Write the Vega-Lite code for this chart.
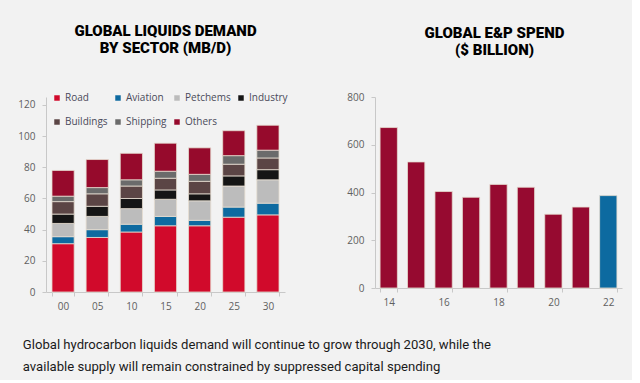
{
  "$schema": "https://vega.github.io/schema/vega-lite/v6.json",
  "background": "#f2f2f2",
  "padding": {"left": 17, "top": 24, "right": 10, "bottom": 5},
  "spacing": 58,
  "resolve": {"scale": {"color": "independent"}, "legend": {"color": "independent"}},
  "config": {
    "view": {"stroke": null},
    "axis": {
      "labelFont": "Open Sans",
      "labelFontSize": 10,
      "labelColor": "#606060",
      "domainColor": "#c8c8c8",
      "tickColor": "#c8c8c8",
      "tickSize": 4,
      "grid": false,
      "title": null
    },
    "title": {
      "font": "Roboto",
      "fontSize": 15,
      "fontWeight": 900,
      "color": "#000000",
      "lineHeight": 17
    }
  },
  "title": {
    "text": [
      "Global hydrocarbon liquids demand will continue to grow through 2030, while the",
      "available supply will remain constrained by suppressed capital spending"
    ],
    "orient": "bottom",
    "anchor": "start",
    "font": "Roboto",
    "fontSize": 13.1,
    "fontWeight": "normal",
    "color": "#1a1a1a",
    "lineHeight": 22,
    "offset": 28,
    "dx": 5
  },
  "hconcat": [
    {
      "width": 239,
      "height": 195,
      "title": {
        "text": ["GLOBAL LIQUIDS DEMAND", "BY SECTOR (MB/D)"],
        "offset": 37
      },
      "data": {
        "values": [
          {"year": "00", "sector": "Road", "value": 31},
          {"year": "00", "sector": "Aviation", "value": 4.5},
          {"year": "00", "sector": "Petchems", "value": 8.5},
          {"year": "00", "sector": "Industry", "value": 6},
          {"year": "00", "sector": "Buildings", "value": 8},
          {"year": "00", "sector": "Shipping", "value": 3.5},
          {"year": "00", "sector": "Others", "value": 16.5},
          {"year": "05", "sector": "Road", "value": 35},
          {"year": "05", "sector": "Aviation", "value": 5},
          {"year": "05", "sector": "Petchems", "value": 8.5},
          {"year": "05", "sector": "Industry", "value": 6.5},
          {"year": "05", "sector": "Buildings", "value": 8},
          {"year": "05", "sector": "Shipping", "value": 4},
          {"year": "05", "sector": "Others", "value": 18},
          {"year": "10", "sector": "Road", "value": 38.5},
          {"year": "10", "sector": "Aviation", "value": 5},
          {"year": "10", "sector": "Petchems", "value": 10},
          {"year": "10", "sector": "Industry", "value": 6.5},
          {"year": "10", "sector": "Buildings", "value": 8},
          {"year": "10", "sector": "Shipping", "value": 4},
          {"year": "10", "sector": "Others", "value": 17},
          {"year": "15", "sector": "Road", "value": 42.5},
          {"year": "15", "sector": "Aviation", "value": 6},
          {"year": "15", "sector": "Petchems", "value": 11},
          {"year": "15", "sector": "Industry", "value": 6},
          {"year": "15", "sector": "Buildings", "value": 7.5},
          {"year": "15", "sector": "Shipping", "value": 4.5},
          {"year": "15", "sector": "Others", "value": 18},
          {"year": "20", "sector": "Road", "value": 42.5},
          {"year": "20", "sector": "Aviation", "value": 3.5},
          {"year": "20", "sector": "Petchems", "value": 12.5},
          {"year": "20", "sector": "Industry", "value": 4.5},
          {"year": "20", "sector": "Buildings", "value": 8},
          {"year": "20", "sector": "Shipping", "value": 4.5},
          {"year": "20", "sector": "Others", "value": 17},
          {"year": "25", "sector": "Road", "value": 48},
          {"year": "25", "sector": "Aviation", "value": 6.5},
          {"year": "25", "sector": "Petchems", "value": 13.5},
          {"year": "25", "sector": "Industry", "value": 6.5},
          {"year": "25", "sector": "Buildings", "value": 7.5},
          {"year": "25", "sector": "Shipping", "value": 5.5},
          {"year": "25", "sector": "Others", "value": 16},
          {"year": "30", "sector": "Road", "value": 49.5},
          {"year": "30", "sector": "Aviation", "value": 7.5},
          {"year": "30", "sector": "Petchems", "value": 15},
          {"year": "30", "sector": "Industry", "value": 6.5},
          {"year": "30", "sector": "Buildings", "value": 7.5},
          {"year": "30", "sector": "Shipping", "value": 5},
          {"year": "30", "sector": "Others", "value": 16}
        ]
      },
      "transform": [
        {"calculate": "indexof(['Road','Aviation','Petchems','Industry','Buildings','Shipping','Others'], datum.sector)", "as": "stackIndex"}
      ],
      "mark": {"type": "bar", "stroke": "#e6ddd0", "strokeWidth": 0.8},
      "encoding": {
        "x": {
          "field": "year",
          "type": "ordinal",
          "scale": {"paddingInner": 0.35, "paddingOuter": 0.175},
          "axis": {"labelAngle": 0, "tickBand": "extent", "labelPadding": 5}
        },
        "y": {
          "field": "value",
          "type": "quantitative",
          "aggregate": "sum",
          "scale": {"domain": [0, 125.13], "nice": false},
          "axis": {"values": [0, 20, 40, 60, 80, 100, 120], "labelPadding": 7}
        },
        "order": {"field": "stackIndex", "type": "quantitative", "sort": "ascending"},
        "color": {
          "field": "sector",
          "type": "nominal",
          "sort": ["Road", "Aviation", "Petchems", "Industry", "Buildings", "Shipping", "Others"],
          "scale": {
            "domain": ["Road", "Aviation", "Petchems", "Industry", "Buildings", "Shipping", "Others"],
            "range": ["#d10a2b", "#0e6aa0", "#bcbcbc", "#151515", "#5b4545", "#6b6b6b", "#960a2c"]
          },
          "legend": {
            "orient": "none",
            "legendX": 6,
            "legendY": -4,
            "direction": "horizontal",
            "columns": 4,
            "title": null,
            "symbolType": "square",
            "symbolSize": 30,
            "symbolStrokeWidth": 0,
            "labelFont": "Open Sans",
            "labelFontSize": 10,
            "labelColor": "#4a4a5a",
            "labelOffset": 3,
            "columnPadding": 5,
            "rowPadding": 14
          }
        }
      }
    },
    {
      "width": 247,
      "height": 191,
      "title": {
        "text": ["GLOBAL E&P SPEND", "($ BILLION)"],
        "offset": 34.5,
        "dx": -4
      },
      "data": {
        "values": [
          {"year": "14", "kind": "actual", "spend": 672},
          {"year": "15", "kind": "actual", "spend": 528},
          {"year": "16", "kind": "actual", "spend": 404},
          {"year": "17", "kind": "actual", "spend": 380},
          {"year": "18", "kind": "actual", "spend": 434},
          {"year": "19", "kind": "actual", "spend": 422},
          {"year": "20", "kind": "actual", "spend": 309},
          {"year": "21", "kind": "actual", "spend": 339},
          {"year": "22", "kind": "forecast", "spend": 387}
        ]
      },
      "mark": {"type": "bar", "stroke": "#e6ddd0", "strokeWidth": 0.8},
      "encoding": {
        "x": {
          "field": "year",
          "type": "ordinal",
          "scale": {"paddingInner": 0.37, "paddingOuter": 0.185},
          "axis": {"labelAngle": 0, "tickBand": "extent", "values": ["14", "16", "18", "20", "22"], "labelPadding": 5}
        },
        "y": {
          "field": "spend",
          "type": "quantitative",
          "scale": {"domain": [0, 800]},
          "axis": {"values": [0, 200, 400, 600, 800], "labelPadding": 7}
        },
        "color": {
          "field": "kind",
          "type": "nominal",
          "scale": {"domain": ["actual", "forecast"], "range": ["#960a30", "#0d6aa0"]},
          "legend": null
        }
      }
    }
  ]
}
